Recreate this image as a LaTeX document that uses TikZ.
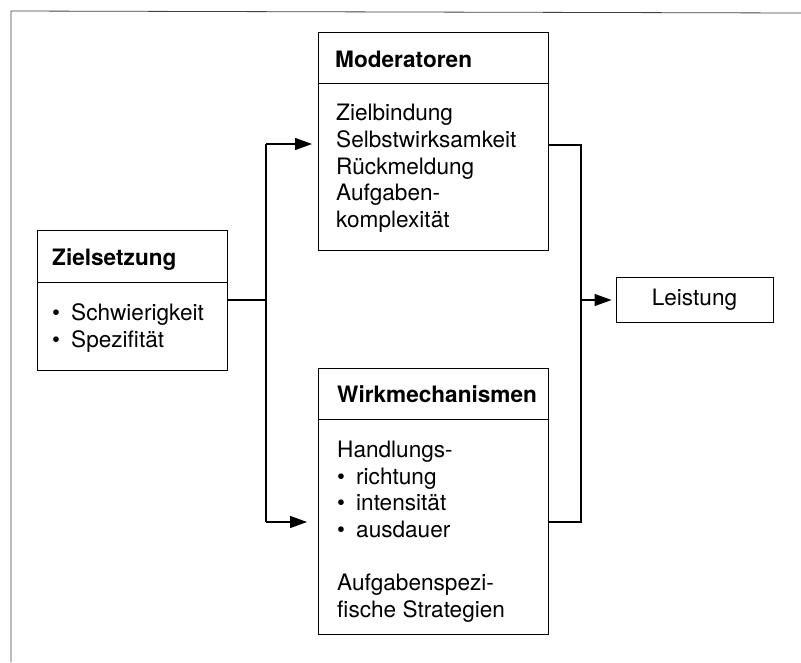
\documentclass[tikz,border=0pt]{standalone}
\usepackage{fontspec}
\setmainfont{TeX Gyre Heros}
\usetikzlibrary{arrows.meta}
\begin{document}
\begin{tikzpicture}[x=1pt,y=-1pt,
 box/.style={draw, line width=0.9pt, rectangle, inner sep=0pt, anchor=north west},
 txt/.style={anchor=base west, inner sep=0pt, font=\fontsize{22.6}{26.7}\selectfont},
 head/.style={txt, font=\fontsize{22.6}{26.7}\selectfont\bfseries},
 conn/.style={line width=1.3pt},
 arr/.style={conn, -{Triangle[length=17pt,width=12pt]}},
 frame/.style={line width=0.8pt, black!75},
]
\useasboundingbox (0,0) rectangle (801,662);
\newcommand{\bul}{\makebox[19pt][l]{•}}
% outer frame
\coordinate (fr) at (801,13);
\coordinate (fc) at (11,11);
\coordinate (fb) at (11,662);
\draw[frame] (fr) -- (fc) -- (fb);

% boxes
\node[box, minimum width=190pt, minimum height=140pt] (zs) at (37,230) {};
\node[box, minimum width=230pt, minimum height=218pt] (mod) at (318,32) {};
\node[box, minimum width=230pt, minimum height=266pt] (wm) at (318,368) {};
\node[draw, line width=0.9pt, rectangle, inner sep=0pt, minimum width=157pt, minimum height=45pt,
      font=\fontsize{22.6}{26.7}\selectfont] (lei) at (694.5,299.5) {Leistung};

% header dividers
\coordinate (dz) at (0,282);
\coordinate (dm) at (0,83);
\coordinate (dw) at (0,419);
\draw[line width=0.9pt] (zs.west |- dz) -- (zs.east |- dz);
\draw[line width=0.9pt] (mod.west |- dm) -- (mod.east |- dm);
\draw[line width=0.9pt] (wm.west |- dw) -- (wm.east |- dw);

% Zielsetzung
\node[head] (zsh) at (52,265) {Zielsetzung};
\node[txt] (zs1) at (52,320) {\bul Schwierigkeit};
\node[txt] (zs2) at (52,347) {\bul Spezifität};

% Moderatoren
\node[head] (modh) at (335,67) {Moderatoren};
\node[txt] (mod1) at (336,120) {Zielbindung};
\node[txt] (mod2) at (336,147) {Selbstwirksamkeit};
\node[txt] (mod3) at (336,174) {Rückmeldung};
\node[txt] (mod4) at (336,200) {Aufgaben-};
\node[txt] (mod5) at (336,227) {komplexität};

% Wirkmechanismen
\node[head] (wmh) at (337,402) {Wirkmechanismen};
\node[txt] (wm1) at (337,457) {Handlungs-};
\node[txt] (wm2) at (337,484) {\bul richtung};
\node[txt] (wm3) at (337,510) {\bul intensität};
\node[txt] (wm4) at (337,537) {\bul ausdauer};
\node[txt] (wm5) at (337,590) {Aufgabenspezi-};
\node[txt] (wm6) at (337,617) {fische Strategien};

% connectors left
\coordinate (j1) at (266,300);
\coordinate (j1t) at (266,144);
\coordinate (j1b) at (266,522);
\draw[conn] (zs.east |- j1) -- (j1);
\draw[conn] (j1t) -- (j1b);
\draw[arr, shorten >=6pt] (j1t) -- (mod.west |- j1t);
\draw[arr, shorten >=11pt] (j1b) -- (wm.west |- j1b);

% connectors right
\coordinate (j2) at (581,300);
\coordinate (j2t) at (581,145);
\coordinate (j2b) at (581,522);
\draw[conn] (mod.east |- j2t) -- (j2t) -- (j2b) -- (wm.east |- j2b);
\draw[arr, shorten >=4pt] (j2) -- (lei.west |- j2);
\end{tikzpicture}
\end{document}
